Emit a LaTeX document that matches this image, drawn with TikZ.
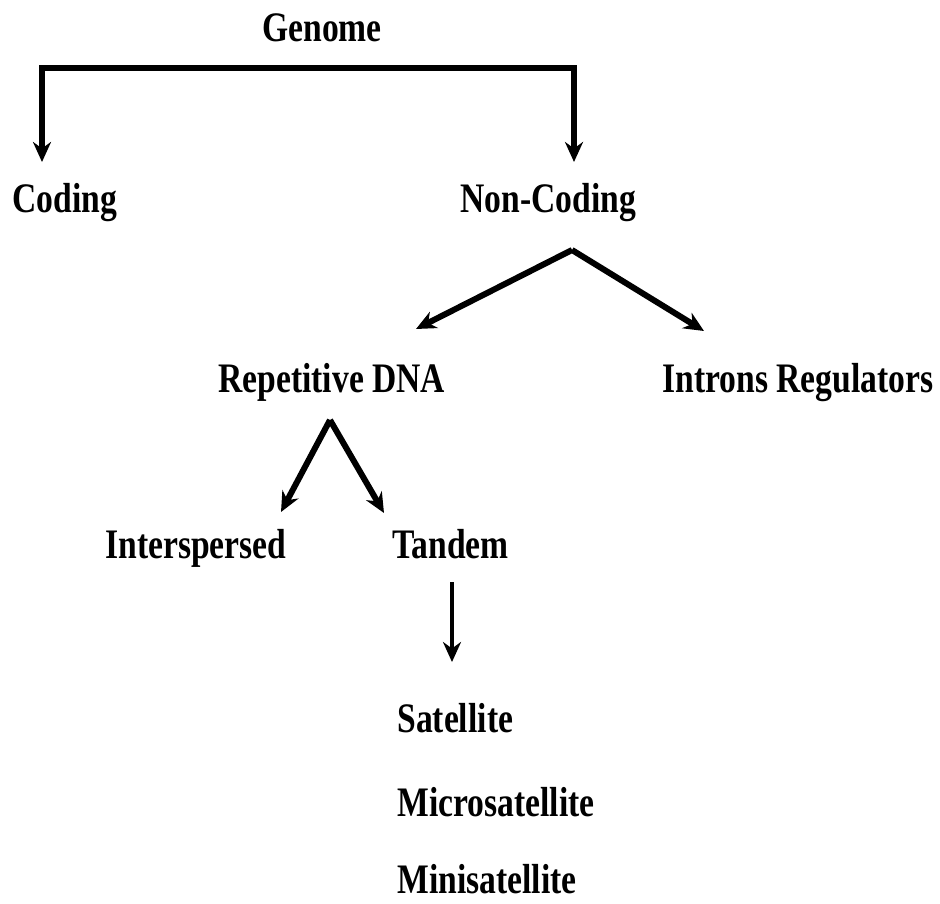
\documentclass[tikz,border=0pt]{standalone}
\usepackage{fontspec}
\setmainfont{Liberation Serif}[FakeStretch=0.8]
\usetikzlibrary{arrows.meta}

\tikzset{
  lbl/.style={anchor=base west, inner sep=0pt, font=\bfseries\fontsize{21}{25}\selectfont},
  arr/.style={line width=3pt, -{Stealth[length=10pt,width=9pt]}},
  arrboth/.style={line width=3pt, {Stealth[length=10pt,width=9pt]}-{Stealth[length=10pt,width=9pt]}},
}

\begin{document}
\begin{tikzpicture}[x=0.5pt,y=-0.5pt]
		%%%%% START %%%%%
		\useasboundingbox (0,0) rectangle (940,903);
		
		\node[lbl] (genome) at (262,42) {Genome};
		\node[lbl] (coding) at (12,213) {Coding};
		\node[lbl] (noncoding) at (460,213) {Non-Coding};
		\node[lbl] (repdna) at (218,392) {Repetitive DNA};
		\node[lbl] (introns) at (662,392) {Introns Regulators};
		\node[lbl] (interspersed) at (105,558) {Interspersed};
		\node[lbl] (tandem) at (392,558) {Tandem};
		\node[lbl] (satellite) at (397,732) {Satellite};
		\node[lbl] (micro) at (397,816) {Microsatellite};
		\node[lbl] (mini) at (397,893) {Minisatellite};
		
		% genome bar
		\coordinate (barL) at (42,68);
		\coordinate (barR) at (574,68);
		\coordinate (coding-in) at (42,162);
		\coordinate (noncoding-in) at (574,162);
		\draw[arrboth] (coding-in) -- (barL) -- (barR) -- (noncoding-in);
		
		% non-coding split
		\coordinate (nc-fork) at (572,250);
		\coordinate (repdna-in) at (416,329);
		\coordinate (introns-in) at (704,331);
		\draw[arr] (nc-fork) -- (repdna-in);
		\draw[arr] (nc-fork) -- (introns-in);
		
		% repetitive split
		\coordinate (rep-fork) at (330,420);
		\coordinate (interspersed-in) at (281,512);
		\coordinate (tandem-in) at (384,513);
		\draw[arr] (rep-fork) -- (interspersed-in);
		\draw[arr] (rep-fork) -- (tandem-in);
		
		% tandem
		\coordinate (tandem-out) at (452,582);
		\coordinate (satellite-in) at (452,662);
		\draw[arr, line width=1.6pt] (tandem-out) -- (satellite-in);
		%%%%% END %%%%%
\end{tikzpicture}
\end{document}
